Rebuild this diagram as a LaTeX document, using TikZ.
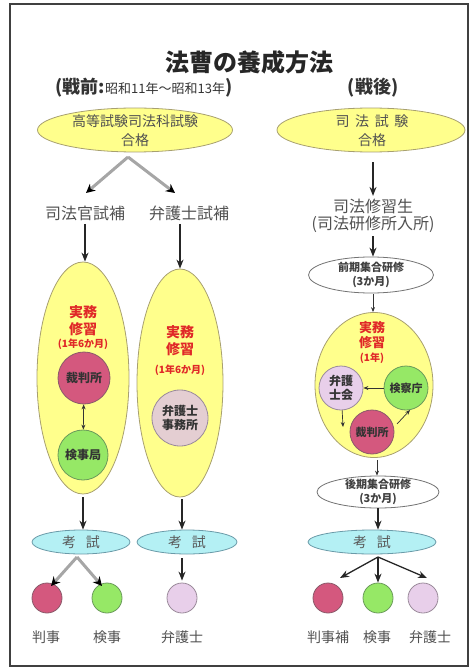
\documentclass[tikz,border=0pt]{standalone}
\usepackage{fontspec}
\setmainfont{Noto Sans CJK JP}
\usetikzlibrary{arrows.meta,shapes.geometric}

\definecolor{passyellow}{HTML}{FFFF8C}
\definecolor{passdraw}{HTML}{A8A070}
\definecolor{courtred}{HTML}{D4587E}
\definecolor{courtdraw}{HTML}{8A5A6A}
\definecolor{prosgreen}{HTML}{96E866}
\definecolor{prosdraw}{HTML}{6A9A5A}
\definecolor{lawlav}{HTML}{E8CFEA}
\definecolor{lawdraw}{HTML}{9A8A9A}
\definecolor{officebeige}{HTML}{E4CED2}
\definecolor{examcyan}{HTML}{B4F0F4}
\definecolor{examdraw}{HTML}{6A9AA8}
\definecolor{redtxt}{HTML}{E02828}
\definecolor{textgray}{HTML}{505050}

\tikzset{
  frame/.style={draw=black!75, line width=1.5pt},
  titletxt/.style={font=\fontsize{24}{28}\selectfont\bfseries, text=black!85},
  headtxt/.style={font=\fontsize{18}{20}\selectfont\bfseries, text=black!80},
  stagetxt/.style={font=\fontsize{16}{16.5}\selectfont, text=textgray, align=center},
  passtxt/.style={font=\fontsize{14}{19}\selectfont, text=textgray, align=center},
  pass/.style={ellipse, draw=passdraw, fill=passyellow, line width=0.8pt, inner sep=0pt},
  exam/.style={ellipse, draw=examdraw, fill=examcyan, line width=0.8pt, inner sep=0pt, minimum height=24pt},
  examtxt/.style={font=\fontsize{14}{16}\selectfont, text=black!65},
  course/.style={ellipse, draw=black!55, fill=white, line width=0.8pt, inner sep=0pt},
  coursetxt/.style={font=\fontsize{11}{14}\selectfont\bfseries, text=black!75, align=center},
  jitsutxt/.style={font=\fontsize{14}{17}\selectfont\bfseries, text=redtxt, align=center},
  periodtxt/.style={font=\fontsize{10}{12}\selectfont\bfseries, text=redtxt},
  place/.style={circle, inner sep=0pt, line width=0.8pt, align=center,
    font=\fontsize{12}{14}\selectfont\bfseries, text=black!80},
  job/.style={circle, minimum size=30pt, inner sep=0pt, line width=0.8pt},
  jobtxt/.style={font=\fontsize{14}{16}\selectfont, text=textgray},
  arr/.style={draw=black!85, line width=1.3pt, -{Stealth[length=9pt,width=7pt]}},
  grayarr/.style={draw=black!35, line width=3pt, -{Stealth[length=9pt,width=9pt,color=black]}},
  smallarr/.style={draw=black!80, line width=0.7pt, -{Stealth[length=5pt,width=4pt]}},
  dblarr/.style={draw=black!80, line width=0.7pt, {Stealth[length=5pt,width=4pt]}-{Stealth[length=5pt,width=4pt]}},
}

\begin{document}
\begin{tikzpicture}[x=1pt, y=-1pt]
\useasboundingbox (0,0) rectangle (475,668);

% frame
\draw[frame] (10,4) rectangle (468,666);

% title
\node[titletxt] (title) at (249,62) {法曹の養成方法};
\node[headtxt] (senzen) at (144,88) {(戦前:{\fontsize{13}{14}\selectfont\mdseries 昭和11年～昭和13年})};
\node[headtxt] (sengo) at (373,88) {(戦後)};

% before the war: exam and split
\node[pass, minimum width=195pt, minimum height=44pt] (goukakuL) at (135,130) {};
\node[passtxt] (goukakuLtxt) at (135,131) {高等試験司法科試験\\合格};
\node[stagetxt] (kanshiho) at (85,213) {司法官試補};
\node[stagetxt] (benshiho) at (189,213) {弁護士試補};
\coordinate (splitL) at (128,157);
\coordinate (toKanshiho) at (86,193);
\coordinate (toBenshiho) at (175,193);
\draw[grayarr] (splitL) -- (toKanshiho);
\draw[grayarr] (splitL) -- (toBenshiho);

% before the war: training
\node[pass, minimum width=92pt, minimum height=232pt] (jitsumuL) at (83,378) {};
\node[pass, minimum width=86pt, minimum height=228pt] (jitsumuR) at (180,383) {};
\draw[arr] (kanshiho.south) -- (kanshiho.south |- jitsumuL.north);
\draw[arr] (benshiho.south -| jitsumuR.north) -- (jitsumuR.north);

\node[jitsutxt] (jitsuL) at (83,321) {実務\\修習};
\node[periodtxt] (kikanL) at (83,344) {(1年6か月)};
\node[place, fill=courtred, draw=courtdraw, minimum size=52pt] (saibanL) at (84,378) {裁判所};
\node[place, fill=prosgreen, draw=prosdraw, minimum size=50pt] (kenjiL) at (83,455) {検事局};
\draw[dblarr] (saibanL) -- (kenjiL);

\node[jitsutxt] (jitsuR) at (180,341) {実務\\修習};
\node[periodtxt] (kikanR) at (180,370) {(1年6か月)};
\node[place, fill=officebeige, draw=lawdraw, minimum size=56pt] (officeR) at (180,418) {弁護士\\事務所};

% before the war: final exam
\node[exam, minimum width=98pt] (examL) at (81,542) {};
\node[examtxt] (examLtxt) at (81,542) {考\hspace{0.7em}試};
\node[exam, minimum width=100pt] (examR) at (187,542) {};
\node[examtxt] (examRtxt) at (187,542) {考\hspace{0.7em}試};
\draw[arr, shorten <=3pt] (jitsumuL.south) -- (jitsumuL.south |- examL.north);
\draw[arr, shorten <=2pt] (jitsumuR.south -| 182,0) -- (examR.north -| 182,0);

\node[job, fill=courtred, draw=courtdraw] (hanjiL) at (47,598) {};
\node[job, fill=prosgreen, draw=prosdraw] (kenjiJobL) at (107,598) {};
\node[job, fill=lawlav, draw=lawdraw] (bengoL) at (182,598) {};
\coordinate (splitE) at (77,557);
\coordinate (toHanji) at (51,586);
\coordinate (toKenji) at (102,586);
\draw[grayarr] (splitE) -- (toHanji);
\draw[grayarr] (splitE) -- (toKenji);
\draw[arr, shorten <=4pt, shorten >=2pt] (examR.south -| bengoL) -- (bengoL);

\node[jobtxt] (hanjiLtxt) at (46,637) {判事};
\node[jobtxt] (kenjiLtxt) at (107,637) {検事};
\node[jobtxt] (bengoLtxt) at (182,637) {弁護士};

% after the war
\node[pass, minimum width=188pt, minimum height=44pt] (goukakuR) at (371,130) {};
\node[passtxt] (goukakuRtxt) at (372,131) {司\hspace{0.4em}法\hspace{0.4em}試\hspace{0.4em}験\\合格};
\node[stagetxt] (shugosei) at (373,216) {司法修習生\\(司法研修所入所)};
\draw[arr, shorten <=10pt] (goukakuR.south -| shugosei.north) -- (shugosei.north);

\node[course, minimum width=125pt, minimum height=36pt] (zenki) at (371,275) {};
\node[coursetxt] (zenkitxt) at (371,275) {前期集合研修\\(3か月)};
\draw[arr] (shugosei.south -| 373,0) -- (zenki.north -| 373,0);

\node[pass, minimum width=118pt, minimum height=145pt] (jitsumuS) at (374,385) {};
\draw[smallarr, shorten <=1pt] (zenki.south -| 373,0) -- (jitsumuS.north -| 373,0);
\node[jitsutxt, font=\fontsize{13}{15}\selectfont\bfseries] (jitsuS) at (372,335) {実務\\修習};
\node[periodtxt] (kikanS) at (372,358) {(1年)};
\node[place, fill=lawlav, draw=lawdraw, minimum size=44pt] (bengokaiS) at (341,388) {弁護\\士会};
\node[place, fill=prosgreen, draw=prosdraw, minimum size=44pt, font=\fontsize{11}{13}\selectfont\bfseries] (kensatsuS) at (406,388) {検察庁};
\node[place, fill=courtred, draw=courtdraw, minimum size=44pt, font=\fontsize{11}{13}\selectfont\bfseries] (saibanS) at (372,432) {裁判所};
\coordinate (toSaiban) at (343,427);
\coordinate (fromSaiban) at (397,424);
\coordinate (toKensatsu) at (410,410);
\draw[smallarr] (kensatsuS) -- (bengokaiS);
\draw[smallarr] (bengokaiS) -- (toSaiban);
\draw[smallarr] (fromSaiban) -- (toKensatsu);

\node[course, minimum width=122pt, minimum height=32pt] (kouki) at (378,492) {};
\node[coursetxt] (koukitxt) at (378,492) {後期集合研修\\(3か月)};
\draw[smallarr, shorten <=2pt] (jitsumuS.south -| 377,0) -- (kouki.north -| 377,0);

\node[exam, minimum width=128pt] (examS) at (372,542) {};
\node[examtxt] (examStxt) at (372,542) {考\hspace{0.7em}試};
\draw[arr] (kouki.south -| 378,0) -- (examS.north -| 378,0);

\node[job, fill=courtred, draw=courtdraw] (hanjihoS) at (328,598) {};
\node[job, fill=prosgreen, draw=prosdraw] (kenjiJobS) at (378,598) {};
\node[job, fill=lawlav, draw=lawdraw] (bengoS) at (423,598) {};
\coordinate (splitS) at (378,557);
\coordinate (toHanjiho) at (340,578);
\coordinate (toBengo) at (427,578);
\draw[arr] (splitS) -- (toHanjiho);
\draw[arr] (splitS) -- (kenjiJobS);
\draw[arr] (splitS) -- (toBengo);

\node[jobtxt] (hanjihoStxt) at (328,637) {判事補};
\node[jobtxt] (kenjiStxt) at (377,637) {検事};
\node[jobtxt] (bengoStxt) at (430,637) {弁護士};

\end{tikzpicture}
\end{document}
